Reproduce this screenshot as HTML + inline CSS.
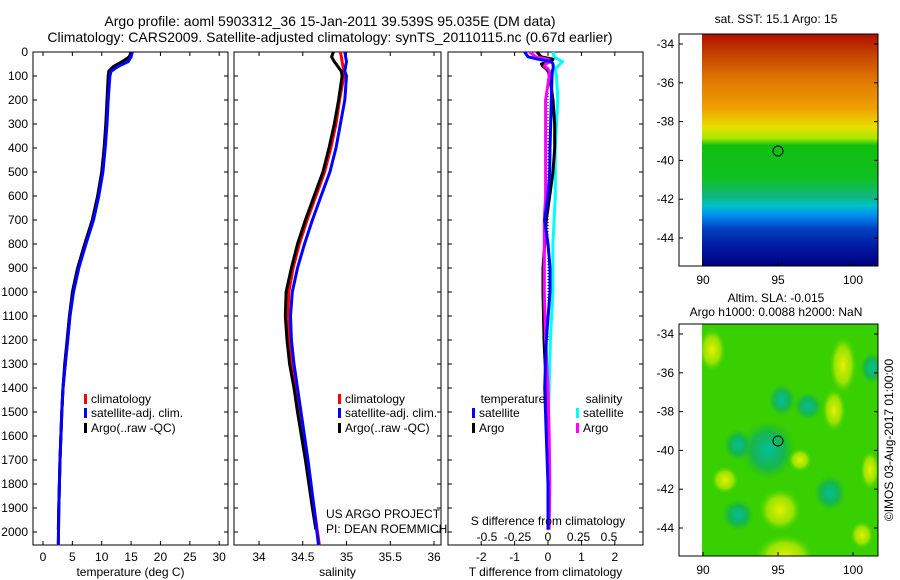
<!DOCTYPE html>
<html><head><meta charset="utf-8"><style>
body{margin:0;background:#fff;}
svg{display:block;font-family:"Liberation Sans",sans-serif;}
</style></head><body>
<svg id="fig" width="900" height="580" viewBox="0 0 900 580">
<defs>
<linearGradient id="sstg" x1="0" y1="0" x2="0" y2="1">
<stop offset="0" stop-color="#b01000"/><stop offset="0.1" stop-color="#c84800"/>
<stop offset="0.2" stop-color="#e07800"/><stop offset="0.32" stop-color="#f0a000"/>
<stop offset="0.4" stop-color="#e8e000"/><stop offset="0.45" stop-color="#a8e800"/>
<stop offset="0.48" stop-color="#10c010"/><stop offset="0.62" stop-color="#10c020"/>
<stop offset="0.7" stop-color="#10b880"/><stop offset="0.74" stop-color="#00c0c8"/>
<stop offset="0.78" stop-color="#0090f0"/><stop offset="0.84" stop-color="#0040c0"/>
<stop offset="0.92" stop-color="#0018a0"/><stop offset="1" stop-color="#000080"/>
</linearGradient>
<radialGradient id="yb"><stop offset="0" stop-color="#e8f000"/><stop offset="0.6" stop-color="#b0e800" stop-opacity="0.8"/><stop offset="1" stop-color="#40d000" stop-opacity="0"/></radialGradient>
<radialGradient id="tb"><stop offset="0" stop-color="#00c0a0"/><stop offset="0.6" stop-color="#10b060" stop-opacity="0.8"/><stop offset="1" stop-color="#20c020" stop-opacity="0"/></radialGradient>
<clipPath id="slaclip"><rect x="702" y="324" width="176" height="232"/></clipPath>
</defs>
<text x="330" y="26" font-size="14" text-anchor="middle">Argo profile: aoml 5903312_36 15-Jan-2011 39.539S 95.035E (DM data)</text>
<text x="330" y="42" font-size="14" text-anchor="middle">Climatology: CARS2009. Satellite-adjusted climatology: synTS_20110115.nc (0.67d earlier)</text>
<g id="plots"></g>
<g id="maps">
<text x="776" y="23" font-size="12" text-anchor="middle">sat. SST: 15.1  Argo: 15</text>
<rect x="702" y="34" width="176" height="232" fill="url(#sstg)"/>
<circle cx="778" cy="151" r="5" fill="none" stroke="#000"/>
<text x="776" y="302" font-size="12" text-anchor="middle">Altim. SLA: -0.015</text>
<text x="776" y="316" font-size="12" text-anchor="middle">Argo h1000: 0.0088 h2000: NaN</text>
<g clip-path="url(#slaclip)">
<rect x="702" y="324" width="176" height="232" fill="#38d000"/>
<ellipse cx="712" cy="350" rx="14" ry="22" fill="url(#yb)"/>
<ellipse cx="843" cy="365" rx="14" ry="30" fill="url(#yb)"/>
<ellipse cx="834" cy="410" rx="12" ry="22" fill="url(#yb)"/>
<ellipse cx="768" cy="450" rx="28" ry="30" fill="url(#tb)"/>
<ellipse cx="785" cy="556" rx="30" ry="22" fill="url(#yb)"/>
<ellipse cx="780" cy="510" rx="22" ry="22" fill="url(#yb)"/>
<ellipse cx="725" cy="480" rx="14" ry="14" fill="url(#yb)"/>
<ellipse cx="738" cy="445" rx="14" ry="16" fill="url(#tb)"/>
<ellipse cx="782" cy="400" rx="14" ry="16" fill="url(#tb)"/>
<ellipse cx="808" cy="406" rx="14" ry="14" fill="url(#tb)"/>
<ellipse cx="830" cy="493" rx="16" ry="18" fill="url(#tb)"/>
<ellipse cx="738" cy="515" rx="16" ry="16" fill="url(#tb)"/>
<ellipse cx="872" cy="368" rx="12" ry="16" fill="url(#tb)"/>
<ellipse cx="870" cy="470" rx="10" ry="20" fill="url(#yb)"/>
<ellipse cx="862" cy="535" rx="12" ry="14" fill="url(#yb)"/>
<ellipse cx="800" cy="460" rx="12" ry="12" fill="url(#yb)"/>
</g>
<circle cx="778" cy="441" r="5" fill="none" stroke="#000"/>
<text transform="translate(893,440) rotate(-90)" font-size="12" text-anchor="middle">©IMOS 03-Aug-2017 01:00:00</text>
</g>
</svg>
<script>
// ---- data ----
const presT = [0,20,40,60,80,100,200,300,400,500,600,700,800,900,1000,1100,1200,1300,1400,1500,1700,1900,2055];
const tempClim = [15,14.8,14.2,12.5,11.4,11.2,11,10.8,10.5,10.1,9.4,8.5,7.2,6.0,5.1,4.6,4.2,3.8,3.4,3.2,2.9,2.7,2.6];
const tempSat = [15.2,15,14.5,12.8,11.6,11.4,11.1,10.9,10.6,10.2,9.5,8.6,7.3,6.1,5.2,4.6,4.2,3.8,3.4,3.2,2.9,2.7,2.6];
const presA = [0,20,40,60,80,100,200,300,400,500,600,700,800,900,1000,1100,1200,1300,1400,1500,1700,1900,1990];
const tempArgo = [15,14.7,13.5,12,11.2,11.1,10.9,10.7,10.4,10.0,9.3,8.4,7.1,5.9,5.0,4.5,4.1,3.7,3.4,3.2,2.9,2.7,2.6];
const salClim = [34.93,34.94,34.95,34.96,34.97,34.97,34.92,34.88,34.82,34.75,34.65,34.55,34.46,34.39,34.34,34.33,34.35,34.38,34.42,34.46,34.55,34.63,34.69];
const salSat = [34.98,34.99,35.0,34.99,34.98,35.0,34.98,34.93,34.88,34.81,34.71,34.61,34.52,34.44,34.38,34.36,34.37,34.4,34.44,34.48,34.56,34.63,34.68];
const salArgo = [34.85,34.83,34.86,34.9,34.94,34.95,34.91,34.86,34.8,34.73,34.63,34.53,34.44,34.37,34.31,34.3,34.32,34.35,34.4,34.44,34.53,34.61,34.65];
const presD = [0,20,30,40,50,60,70,80,100,200,300,400,500,600,700,800,900,1000,1200,1400,1600,1800,1990];
const dTsat = [-0.7,-0.6,-0.3,0.1,0.15,0.16,0.15,0.13,0.12,0.1,0.08,0.06,0.05,0.0,-0.1,0.0,0.06,0.06,-0.05,-0.1,-0.05,0.0,0.0];
const dTargo = [-0.33,-0.2,0.15,0.1,-0.2,-0.15,-0.05,0.0,0.05,0.15,0.2,0.2,0.15,0.05,-0.05,-0.1,-0.15,-0.15,-0.12,-0.05,0.0,0.0,0.0];
const dSsat = [0.04,0.05,0.08,0.12,0.1,0.08,0.06,0.06,0.07,0.08,0.07,0.06,0.06,0.06,0.05,0.04,0.04,0.04,0.02,0.01,0.0,0.0,0.0];
const dSargo = [-0.15,-0.1,0.0,0.02,-0.02,-0.03,0.0,0.01,0.01,-0.02,-0.02,-0.02,-0.02,-0.02,-0.03,-0.03,-0.03,-0.03,-0.02,0.0,0.01,0.015,0.01];
const presTicks = [0,100,200,300,400,500,600,700,800,900,1000,1100,1200,1300,1400,1500,1600,1700,1800,1900,2000];
const tTicks = [0,5,10,15,20,25,30];
const sTicks = [34,34.5,35,35.5,36];
const dTTicks = [-2,-1,0,1,2];
const dSTicks = [-0.5,-0.25,0,0.25,0.5];
// ---- layout ----
const NS='http://www.w3.org/2000/svg';
const G=document.getElementById('plots');
const yTop=52, yBot=545;
const yP = p => yTop + p*0.24;
function el(tag,attrs,parent){const e=document.createElementNS(NS,tag);for(const k in attrs)e.setAttribute(k,attrs[k]);(parent||G).appendChild(e);return e;}
function txt(x,y,s,anchor,size){const t=el('text',{x:x,y:y,'font-size':size||12,'text-anchor':anchor||'middle'});t.textContent=s;return t;}
const panels=[
 {name:'temperature',x0:33,x1:228,v0:-1.7,v1:31.5,ticks:tTicks,label:'temperature (deg C)'},
 {name:'salinity',x0:234,x1:441,v0:33.714,v1:36.08,ticks:sTicks,label:'salinity'},
 {name:'difference',x0:448,x1:643,v0:-2.994,v1:2.844,ticks:dTTicks,label:'T difference from climatology'}
];
panels.forEach((P,i)=>{
 P.sx=v=>P.x0+(v-P.v0)/(P.v1-P.v0)*(P.x1-P.x0);
 const f=el('rect',{x:P.x0,y:yTop,width:P.x1-P.x0,height:yBot-yTop,fill:'none',stroke:'#000','stroke-width':1});
 
 
 P.ticks.forEach(v=>{const x=P.sx(v);
  el('line',{x1:x,x2:x,y1:yBot,y2:yBot-4,stroke:'#000'});el('line',{x1:x,x2:x,y1:yTop,y2:yTop+4,stroke:'#000'});
  const t=txt(x,561,String(v));
  
  
 });
 const xl=txt((P.x0+P.x1)/2,576,P.label);
 
 
 presTicks.forEach(p=>{const y=yP(p);
  el('line',{x1:P.x0,x2:P.x0+4,y1:y,y2:y,stroke:'#000'});el('line',{x1:P.x1,x2:P.x1-4,y1:y,y2:y,stroke:'#000'});
  if(i===0){const t=txt(28,y+4,String(p),'end');
   
   }
 });
});
function line(P,sx,pres,vals,color,name){
 const d=pres.map((p,k)=>(k?'L':'M')+sx(vals[k]).toFixed(1)+','+yP(p).toFixed(1)).join('');
 const e=el('path',{d:d,fill:'none',stroke:color,'stroke-width':3,'stroke-linejoin':'round'});
 
 
}
const P1=panels[0],P2=panels[1],P3=panels[2];
line(P1,P1.sx,presT,tempClim,'#f00','temp-climatology-line');
line(P1,P1.sx,presA,tempArgo,'#000','temp-argo-line');
line(P1,P1.sx,presT,tempSat,'#00f','temp-satellite-line');
line(P2,P2.sx,presT,salClim,'#f00','salinity-climatology-line');
line(P2,P2.sx,presA,salArgo,'#000','salinity-argo-line');
line(P2,P2.sx,presT,salSat,'#00f','salinity-satellite-line');
const s0=548, sS=v=>s0+v*122;
const z=el('line',{x1:P3.sx(0),x2:P3.sx(0),y1:yTop+20,y2:yP(1200),stroke:'#000','stroke-dasharray':'1,2'});


line(P3,sS,presD,dSsat,'#0ff','salinity-diff-satellite-line');
line(P3,P3.sx,presD,dTargo,'#000','temp-diff-argo-line');
line(P3,sS,presD,dSargo,'#f0f','salinity-diff-argo-line');
line(P3,P3.sx,presD,dTsat,'#00f','temp-diff-satellite-line');
dSTicks.forEach(v=>{const t=txt(sS(v),541,String(v));
 
 });
const st=txt(548,525,'S difference from climatology');


function leg(x,y,color,label,name){
 el('rect',{x:x,y:y-9,width:3,height:10,fill:color});
 const t=txt(x+7,y,label,'start',12);
 
 
}
[[P1,84],[P2,338]].forEach(([P,x])=>{
 const n=P.name;
 leg(x,403,'#f00','climatology',n+'-legend-climatology');
 leg(x,417,'#00f','satellite-adj. clim.',n+'-legend-satellite');
 leg(x,432,'#000','Argo(..raw -QC)',n+'-legend-argo');
});
const lt=txt(513,403,'temperature');
const ls=txt(604,403,'salinity');
leg(472,417,'#00f','satellite','legend-temp-satellite');
leg(472,432,'#000','Argo','legend-temp-argo');
leg(576,417,'#0ff','satellite','legend-sal-satellite');
leg(576,432,'#f0f','Argo','legend-sal-argo');
const u1=txt(326,518,'US ARGO PROJECT','start');
const u2=txt(326,533,'PI: DEAN ROEMMICH','start');
const M=document.getElementById('maps');
const lonTicks=[90,95,100];
const latTicks=[-34,-36,-38,-40,-42,-44];
[[34,44],[324,334]].forEach(([y0,ylat],mi)=>{
 const f=el('rect',{x:679,y:y0,width:199,height:232,fill:'none',stroke:'#000'},M);
 
 
 latTicks.forEach(l=>{const y=ylat+(-34-l)*19.4;
  el('line',{x1:679,x2:683,y1:y,y2:y,stroke:'#000'},M);el('line',{x1:878,x2:874,y1:y,y2:y,stroke:'#000'},M);
  const t=txt(674,y+4,String(l),'end');M.appendChild(t);
  
  });
 lonTicks.forEach(l=>{const x=703+(l-90)*15;
  el('line',{x1:x,x2:x,y1:y0+232,y2:y0+228,stroke:'#000'},M);
  const t=txt(x,y0+250,String(l));M.appendChild(t);
  
  });
});
</script>
</body></html>
